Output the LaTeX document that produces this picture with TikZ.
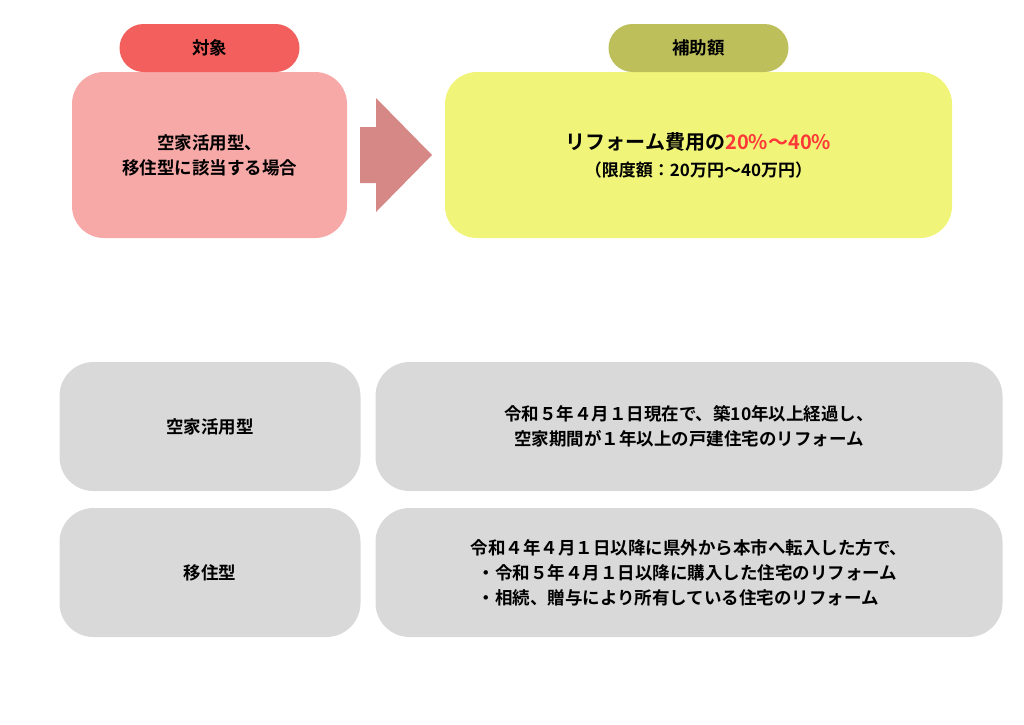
\documentclass[tikz,border=0pt]{standalone}
\usepackage{fontspec}
\setmainfont{Noto Sans CJK JP Bold}
\usetikzlibrary{positioning}
\definecolor{tagred}{HTML}{F25F5C}
\definecolor{boxpink}{HTML}{F7A9A8}
\definecolor{arrowpink}{HTML}{D58886}
\definecolor{tagolive}{HTML}{BDBF5A}
\definecolor{boxyellow}{HTML}{F0F57A}
\definecolor{boxgray}{HTML}{D9D9D9}
\definecolor{hotred}{HTML}{FF3838}
\newcommand{\jp}[1]{\fontsize{#1}{25}\selectfont}

\begin{document}
\begin{tikzpicture}[x=1pt,y=-1pt,every node/.style={inner sep=0pt,outer sep=0pt,align=center,font=\jp{17.5}},
  tagbox/.style={rounded corners=24pt,minimum width=180pt,minimum height=48pt},
  mainbox/.style={rounded corners=32pt,minimum height=166pt},
  rowbox/.style={fill=boxgray,rounded corners=34pt,minimum height=129pt}]
  \useasboundingbox (0,0) rectangle (1024,724);
  % top: target and amount
  \node[mainbox,fill=boxpink,minimum width=275pt] (target) at (209.5,155) {空家活用型、\\移住型に該当する場合};
  \node[tagbox,fill=tagred] (targettag) [above=0pt of target] {対象};
  \node[mainbox,fill=boxyellow,minimum width=507pt] (amount) at (698.5,155)
    {\jp{20}リフォーム費用の{\color{hotred}20\%〜40\%}\\[2pt]\jp{17}（限度額：20万円〜40万円）};
  \node[tagbox,fill=tagolive] (amounttag) [above=0pt of amount] {補助額};
  \fill[arrowpink] (360,127) -- (376,127) -- (376,98) -- (432,155) -- (376,212) -- (376,183) -- (360,183) -- cycle;
  % bottom: types
  \node[rowbox,minimum width=301pt] (vacant) at (210,426.5) {空家活用型};
  \node[rowbox,minimum width=627pt] (vacantinfo) [right=15pt of vacant] {令和５年４月１日現在で、築10年以上経過し、\\空家期間が１年以上の戸建住宅のリフォーム};
  \node[rowbox,minimum width=301pt] (move) [below=17pt of vacant] {移住型};
  \node[rowbox,minimum width=627pt,align=left] (moveinfo) [right=15pt of move] {令和４年４月１日以降に県外から本市へ転入した方で、\\\hspace*{7pt}・令和５年４月１日以降に購入した住宅のリフォーム\\\hspace*{7pt}・相続、贈与により所有している住宅のリフォーム};
\end{tikzpicture}
\end{document}
